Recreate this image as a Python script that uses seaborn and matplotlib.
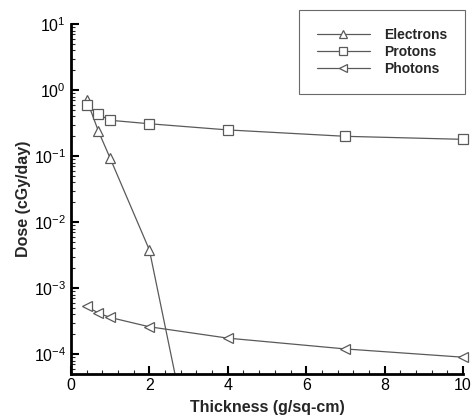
import numpy as np
import pandas as pd
import matplotlib
matplotlib.use("Agg")
import matplotlib.pyplot as plt
import seaborn as sns
from matplotlib.ticker import AutoMinorLocator, LogLocator

# values
electron_x = [0.4, 0.7, 1.0, 2.0, 3.0]
electron_dose = [0.72, 0.24, 0.093, 0.0038, 5e-6]
proton_x = [0.4, 0.7, 1.0, 2.0, 4.0, 7.0, 10.0]
proton_dose = [0.59, 0.43, 0.35, 0.31, 0.25, 0.20, 0.18]
photon_x = [0.4, 0.7, 1.0, 2.0, 4.0, 7.0, 10.0]
photon_dose = [5.3e-4, 4.2e-4, 3.6e-4, 2.6e-4, 1.75e-4, 1.2e-4, 9e-5]

sns.set_style("ticks")
plt.rcParams['font.family'] = ['Liberation Sans', 'DejaVu Sans']
plt.rcParams['mathtext.default'] = 'regular'

fig = plt.figure(figsize=(4.73, 4.17), dpi=100)
ax = fig.add_axes([0.150, 0.103, 0.829, 0.839])

line_col = '#5a5a5a'
series = [
    ('Electrons', electron_x, electron_dose, '^'),
    ('Protons', proton_x, proton_dose, 's'),
    ('Photons', photon_x, photon_dose, '<'),
]
for name, xs, ys, mk in series:
    df = pd.DataFrame({'x': xs, 'y': ys})
    sns.lineplot(data=df, x='x', y='y', ax=ax, color=line_col, lw=0.9,
                 marker=mk, markersize=7.5, markerfacecolor='white',
                 markeredgecolor=line_col, markeredgewidth=0.9, label=name)
for ln in ax.lines:
    ln.set_clip_on(False)

ax.set_yscale('log')
ax.set_xlim(0, 10)
ax.set_ylim(5e-5, 10)
# keep the electron line inside the frame
ax.lines[0].set_clip_on(True)
ax.set_xticks([0, 2, 4, 6, 8, 10])
ax.xaxis.set_minor_locator(AutoMinorLocator(5))
ax.yaxis.set_major_locator(LogLocator(base=10, numticks=10))
ax.yaxis.set_minor_locator(LogLocator(base=10, subs=np.arange(2, 10), numticks=20))

ax.spines['top'].set_visible(False)
ax.spines['right'].set_visible(False)
for s in ['left', 'bottom']:
    ax.spines[s].set_linewidth(2)
    ax.spines[s].set_color('black')
ax.tick_params(which='major', direction='in', length=6, width=1.5, labelsize=11.5, colors='black')
ax.tick_params(which='minor', direction='in', length=3, width=0.8)
ax.tick_params(axis='x', pad=3)

ax.set_xlabel('Thickness (g/sq-cm)', fontsize=11.5, fontweight='bold', labelpad=5)
ax.set_ylabel('Dose (cGy/day)', fontsize=11.5, fontweight='bold', labelpad=2)

leg = ax.legend(loc='upper right', bbox_to_anchor=(1.005, 1.04), frameon=True,
                fancybox=False, edgecolor='#444444', fontsize=10,
                handlelength=3.8, handletextpad=1.0, borderpad=1.3,
                borderaxespad=0, labelspacing=0.2, markerscale=0.7)
leg.get_frame().set_linewidth(0.8)
for t in leg.get_texts():
    t.set_fontweight('bold')

fig.savefig('out.png', dpi=100)
